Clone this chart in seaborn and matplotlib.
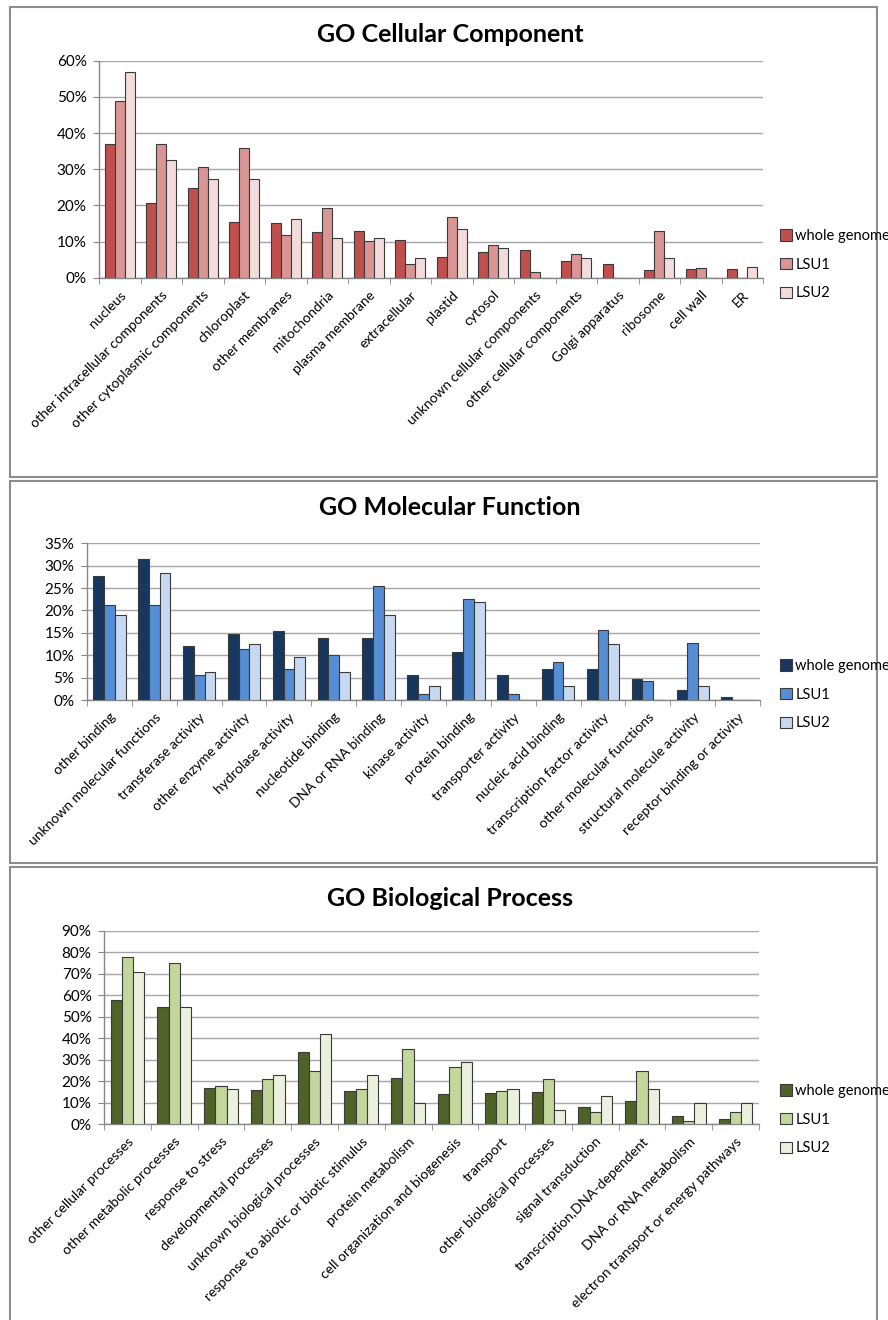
import matplotlib
matplotlib.use("Agg")
import matplotlib.pyplot as plt
from matplotlib.patches import Patch, Rectangle
from matplotlib.ticker import FuncFormatter
import seaborn as sns
import numpy as np
import pandas as pd

series = ['whole genome', 'LSU1', 'LSU2']

# GO Cellular Component
cc_terms = ['nucleus', 'other intracellular components', 'other cytoplasmic components',
            'chloroplast', 'other membranes', 'mitochondria', 'plasma membrane',
            'extracellular', 'plastid', 'cytosol', 'unknown cellular components',
            'other cellular components', 'Golgi apparatus', 'ribosome', 'cell wall', 'ER']
cc_whole = [37.1, 20.6, 24.7, 15.5, 15.0, 12.5, 12.9, 10.4, 5.7, 7.1, 7.6, 4.5, 3.9, 2.1, 2.4, 2.5]
cc_lsu1 = [48.8, 37.0, 30.7, 35.9, 11.7, 19.3, 10.2, 3.9, 16.7, 9.1, 1.5, 6.5, 0.0, 12.9, 2.7, 0.0]
cc_lsu2 = [56.8, 32.5, 27.2, 27.2, 16.3, 10.9, 10.9, 5.4, 13.6, 8.3, 0.0, 5.4, 0.0, 5.4, 0.0, 2.9]

# GO Molecular Function
mf_terms = ['other binding', 'unknown molecular functions', 'transferase activity',
            'other enzyme activity', 'hydrolase activity', 'nucleotide binding',
            'DNA or RNA binding', 'kinase activity', 'protein binding',
            'transporter activity', 'nucleic acid binding', 'transcription factor activity',
            'other molecular functions', 'structural molecule activity',
            'receptor binding or activity']
mf_whole = [27.6, 31.4, 12.1, 14.8, 15.5, 13.9, 13.9, 5.5, 10.7, 5.5, 6.9, 6.9, 4.8, 2.2, 0.7]
mf_lsu1 = [21.2, 21.2, 5.5, 11.3, 7.0, 10.0, 25.5, 1.3, 22.6, 1.4, 8.5, 15.6, 4.2, 12.7, 0.0]
mf_lsu2 = [18.9, 28.3, 6.2, 12.5, 9.5, 6.2, 18.9, 3.1, 22.0, 0.0, 3.1, 12.5, 0.0, 3.1, 0.0]

# GO Biological Process
bp_terms = ['other cellular processes', 'other metabolic processes', 'response to stress',
            'developmental processes', 'unknown biological processes',
            'response to abiotic or biotic stimulus', 'protein metabolism',
            'cell organization and biogenesis', 'transport', 'other biological processes',
            'signal transduction', 'transcription,DNA-dependent', 'DNA or RNA metabolism',
            'electron transport or energy pathways']
bp_whole = [57.7, 54.3, 16.9, 15.9, 33.4, 15.5, 21.7, 13.9, 14.6, 15.0, 8.0, 10.8, 3.7, 2.6]
bp_lsu1 = [77.9, 74.8, 18.0, 20.9, 24.9, 16.6, 34.8, 26.5, 15.3, 20.9, 5.6, 24.9, 1.5, 5.6]
bp_lsu2 = [70.7, 54.6, 16.3, 22.8, 41.8, 22.8, 9.9, 28.9, 16.3, 6.5, 13.0, 16.3, 9.8, 9.8]

W, H = 888, 1320
fig = plt.figure(figsize=(W / 100, H / 100), dpi=100)
plt.rcParams['font.family'] = ['Lato', 'DejaVu Sans']


def px_axes(x0, y0, x1, y1):
    return fig.add_axes([x0 / W, 1 - y1 / H, (x1 - x0) / W, (y1 - y0) / H])


def panel_box(y0, y1):
    fig.patches.append(Rectangle((10 / W, 1 - y1 / H), (877 - 10) / W, (y1 - y0) / H,
                                 transform=fig.transFigure, fill=False,
                                 edgecolor='#8c8c8c', linewidth=1.5))


def draw_panel(ax, title, title_y, terms, vals, colors, ymax, step, leg_y):
    df = pd.DataFrame({
        'term': np.repeat(terms, 3),
        'series': series * len(terms),
        'value': np.column_stack(vals).ravel(),
    })
    sns.barplot(data=df, x='term', y='value', hue='series', order=terms,
                hue_order=series, palette=colors, width=0.72, saturation=1,
                edgecolor='#3a3a3a', linewidth=0.8, errorbar=None, legend=False,
                ax=ax, zorder=3)
    ax.set_ylim(0, ymax)
    ax.set_xlim(-0.5, len(terms) - 0.5)
    ax.set_yticks(np.arange(0, ymax + 0.1, step))
    ax.yaxis.set_major_formatter(FuncFormatter(lambda v, p: f'{v:.0f}%'))
    ax.grid(axis='y', color='#a6a6a6', linewidth=1, zorder=0)
    ax.set_axisbelow(True)
    for s in ['top', 'right']:
        ax.spines[s].set_visible(False)
    for s in ['left', 'bottom']:
        ax.spines[s].set_color('#868686')
        ax.spines[s].set_linewidth(1)
    ax.set_xticks(range(len(terms)))
    ax.set_xticklabels(terms, rotation=45, ha='right', rotation_mode='anchor', fontsize=10)
    ax.tick_params(axis='x', which='major', length=0, pad=8)
    ax.set_xticks(np.arange(-0.5, len(terms)), minor=True)
    ax.tick_params(axis='x', which='minor', length=4, color='#868686')
    ax.tick_params(axis='y', length=4, color='#868686', labelsize=11, pad=5)
    ax.set_xlabel('')
    ax.set_ylabel('')
    fig.text(450 / W, 1 - title_y / H, title, ha='center', va='center',
             fontsize=18, fontweight='bold')
    handles = [Patch(facecolor=c, edgecolor='#3a3a3a', linewidth=0.8) for c in colors]
    fig.legend(handles, series, loc='upper left',
               bbox_to_anchor=(780 / W, 1 - leg_y / H), frameon=False,
               fontsize=10.5, handlelength=0.8, handleheight=0.8, borderpad=0,
               borderaxespad=0, handletextpad=0.25, labelspacing=1.0)


panel_box(7, 477)
panel_box(481, 863)
panel_box(867, 1330)

ax1 = px_axes(99, 60.7, 763, 277.7)
draw_panel(ax1, 'GO Cellular Component', 35, cc_terms, [cc_whole, cc_lsu1, cc_lsu2],
           ['#c0504d', '#d99694', '#f2dcdb'], 60, 10, 229)

ax2 = px_axes(87, 543.3, 760, 700)
draw_panel(ax2, 'GO Molecular Function', 508, mf_terms, [mf_whole, mf_lsu1, mf_lsu2],
           ['#17375e', '#558ed5', '#c6d9f1'], 35, 5, 659)

ax3 = px_axes(104, 930.7, 759, 1124.3)
draw_panel(ax3, 'GO Biological Process', 898, bp_terms, [bp_whole, bp_lsu1, bp_lsu2],
           ['#4f6228', '#c3d69b', '#ebf1de'], 90, 10, 1084)

fig.savefig('out.png', dpi=100)
